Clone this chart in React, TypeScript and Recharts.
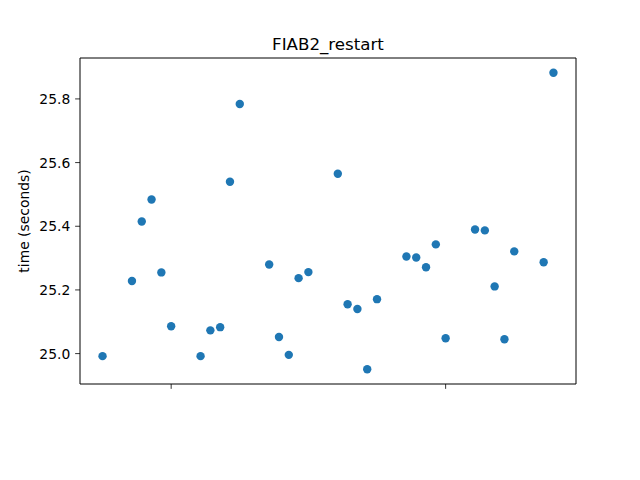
import React from 'react';
import { ScatterChart, Scatter, XAxis, YAxis } from 'recharts';

const dayIndex = [0, 3, 4, 5, 6, 7, 10, 11, 12, 13, 14, 17, 18, 19, 20, 21, 24, 25, 26, 27, 28, 31, 32, 33, 34, 35, 38, 39, 40, 41, 42, 45, 46];
const times = [24.992, 25.228, 25.415, 25.484, 25.255, 25.086, 24.992, 25.073, 25.083, 25.540, 25.784, 25.280, 25.052, 24.996, 25.237, 25.256, 25.565, 25.155, 25.140, 24.951, 25.171, 25.305, 25.302, 25.271, 25.343, 25.048, 25.390, 25.387, 25.211, 25.045, 25.321, 25.287, 25.882];
const xTicks = [7, 35];
const yTicks = [25.0, 25.2, 25.4, 25.6, 25.8];
const title = 'FIAB2_restart';
const yLabel = 'time (seconds)';

const data = dayIndex.map((d, i) => ({ day: d, time: times[i] }));

const FONT = 'DejaVu Sans, sans-serif';
const COLOR = '#1f77b4';

const Dot = (props: any) => {
  const { cx, cy } = props;
  if (cx == null || cy == null) return null;
  return <circle cx={cx} cy={cy} r={4.2} fill={COLOR} />;
};

export default function App() {
  const xDomain: [number, number] = [-2.3, 48.3];
  const yDomain: [number, number] = [24.9045, 25.9285];
  return (
    <div style={{ position: 'absolute', left: 0, top: 0, background: '#fff' }}>
      <ScatterChart width={640} height={480} margin={{ top: 28, right: 44, bottom: 66, left: 20 }}>
        <XAxis
          xAxisId="b"
          dataKey="day"
          type="number"
          domain={xDomain}
          ticks={xTicks}
          allowDataOverflow
          height={30}
          tickSize={4.86}
          tickFormatter={() => ''}
          stroke="#000"
          axisLine={{ stroke: '#000', strokeWidth: 1 }}
          tickLine={{ stroke: '#000', strokeWidth: 0.8 }}
        />
        <XAxis
          xAxisId="t"
          orientation="top"
          dataKey="day"
          type="number"
          domain={xDomain}
          allowDataOverflow
          height={30}
          tick={false}
          tickLine={false}
          axisLine={{ stroke: '#000', strokeWidth: 1 }}
          label={{ value: title, position: 'insideTop', offset: 10, fill: '#000', fontSize: 16.67, fontFamily: FONT }}
        />
        <YAxis
          yAxisId="l"
          dataKey="time"
          type="number"
          domain={yDomain}
          ticks={yTicks}
          allowDataOverflow
          width={60}
          tickSize={4.86}
          tickMargin={4.86}
          tickFormatter={(v: number) => v.toFixed(1)}
          tick={{ fill: '#000', fontSize: 13.89, fontFamily: FONT }}
          axisLine={{ stroke: '#000', strokeWidth: 1 }}
          tickLine={{ stroke: '#000', strokeWidth: 0.8 }}
          label={{ value: yLabel, angle: -90, position: 'insideLeft', offset: 4, fill: '#000', fontSize: 13.89, fontFamily: FONT, style: { textAnchor: 'middle' } }}
        />
        <YAxis
          yAxisId="r"
          orientation="right"
          dataKey="time"
          type="number"
          domain={yDomain}
          allowDataOverflow
          width={20}
          tick={false}
          tickLine={false}
          axisLine={{ stroke: '#000', strokeWidth: 1 }}
        />
        <Scatter data={data} xAxisId="b" yAxisId="l" fill={COLOR} shape={Dot} isAnimationActive={false} />
        <Scatter data={[]} xAxisId="t" yAxisId="r" isAnimationActive={false} />
      </ScatterChart>
    </div>
  );
}
